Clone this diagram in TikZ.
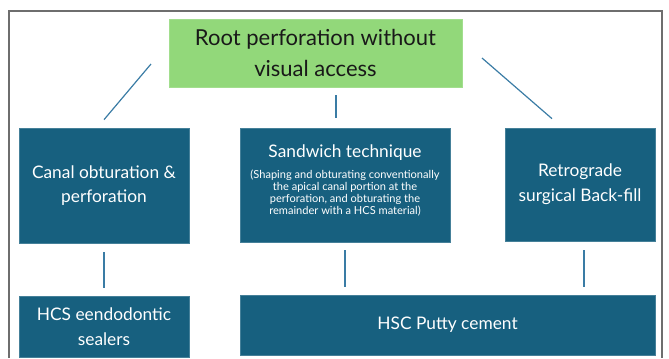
\documentclass[tikz,border=0pt]{standalone}
\usepackage{fontspec}
\setsansfont{Lato}
\usetikzlibrary{positioning,calc}
\definecolor{rootgreen}{HTML}{92D87A}
\definecolor{boxblue}{HTML}{17607F}
\definecolor{linkblue}{HTML}{3A7CA5}
\definecolor{framegray}{HTML}{6E6E6E}
\newcommand{\smalltxt}{\fontsize{8.3}{9}\selectfont}

\begin{document}
\begin{tikzpicture}[
  x=0.75pt, y=-0.75pt,
  font=\sffamily,
  rootbox/.style={rectangle, fill=rootgreen, draw=rootgreen!85!white, inner sep=0pt, align=center, text=black!90, font=\sffamily\fontsize{16.5}{23}\selectfont},
  blk/.style={rectangle, fill=boxblue, draw=boxblue!80!white, line width=0.5pt, inner sep=0pt, align=center, text=white, font=\sffamily\fontsize{13}{18.5}\selectfont},
  conn/.style={linkblue, line width=0.9pt},
  frame/.style={framegray, line width=0.8pt},
]
\useasboundingbox (0,0) rectangle (669,358);
% ---------------- outer frame
\draw[frame] (9,358) |- (662,11) -- (662,358);
% ---------------- top: the root question
\node[rootbox, minimum width=219.75pt, minimum height=51pt] (root) at (315.5,53) {Root perforation without\\visual access};
% ---------------- row 1: the three approaches
\node[blk, minimum width=127.5pt, minimum height=86.25pt] (canal) at (104,185.5) {Canal obturation \&\\perforation};
\node[blk, minimum width=157.5pt, minimum height=85.5pt] (sandwich) at (345,185) {Sandwich technique\\[6pt]
  {\smalltxt\begin{tabular}{@{}c@{}}
    (Shaping and obturating conventionally\\
    the apical canal portion at the\\
    perforation, and obturating the\\
    remainder with a HCS material)\\[5pt]
  \end{tabular}}};
\node[blk, minimum width=112.5pt, minimum height=84.75pt] (retro) at (580,184.5) {Retrograde\\surgical Back-fill};
% ---------------- row 2: the materials
\node[blk, minimum width=127.5pt, minimum height=45.75pt] (sealer) at (104,326.5) {HCS eendodontic\\sealers};
\node[blk, minimum width=311.25pt, minimum height=45pt] (putty) at (447.5,325) {HSC Putty cement};
% ---------------- connectors from the root
\coordinate (rl) at (151,64);
\coordinate (rm) at (336,95);
\coordinate (rr) at (482,58);
\draw[conn] (rl) -- ([yshift=6pt]canal.north);
\draw[conn] (rm) -- ([yshift=7.5pt]rm |- sandwich.north);
\draw[conn] (rr) -- ([xshift=-21pt,yshift=6.75pt]retro.north);
% ---------------- connectors down to the materials
\draw[conn] ([yshift=-6.75pt]canal.south) -- ([yshift=6pt]sealer.north);
\draw[conn] ([yshift=-6pt]sandwich.south) -- ([yshift=6pt]sandwich.south |- putty.north);
\draw[conn] ([xshift=3pt,yshift=-6.75pt]retro.south) -- ([xshift=3pt,yshift=6pt]retro.south |- putty.north);
\end{tikzpicture}
\end{document}
